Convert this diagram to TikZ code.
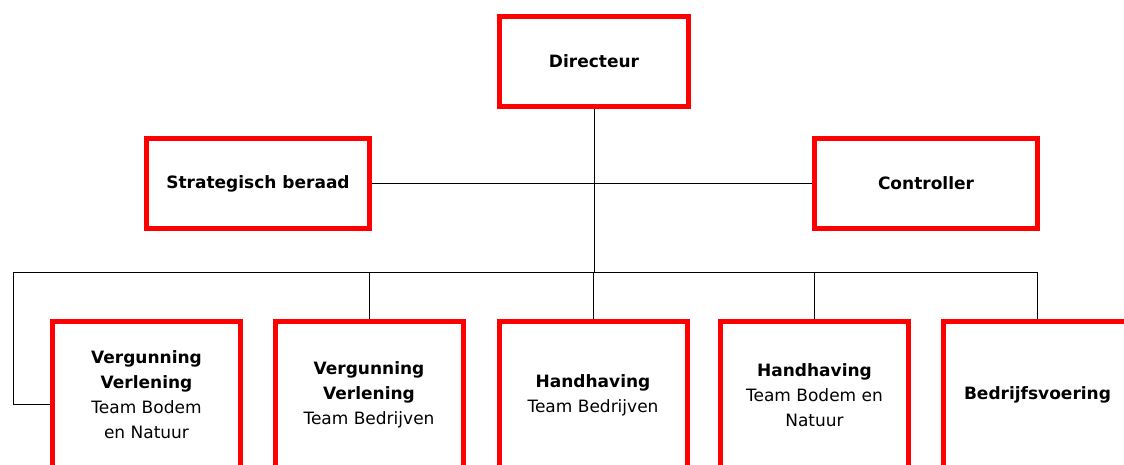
\documentclass[tikz,border=0pt]{standalone}
\usepackage{fontspec}
\setmainfont{DejaVu Sans}
\begin{document}
\begin{tikzpicture}[x=1pt,y=-1pt,
  box/.style={draw=red, line width=5pt, fill=white, inner sep=0pt, align=center,
    font=\fontsize{17}{25}\selectfont},
  topbox/.style={box, minimum width=223pt, minimum height=90pt},
  botbox/.style={box, minimum width=188pt, minimum height=147pt},
  conn/.style={draw=black, line width=0.9pt}]
\useasboundingbox (0,0) rectangle (1124,464);
\clip (0,0) rectangle (1124,464);
% nodes
\node[box, minimum width=189pt, minimum height=90pt] (dir) at (594,61.5) {\textbf{Directeur}};
\node[topbox] (strat) at (258,183.5) {\textbf{Strategisch beraad}};
\node[topbox] (ctrl) at (926,183.5) {\textbf{Controller}};
\node[botbox] (b1) at (146.5,395) {\textbf{Vergunning}\\\textbf{Verlening}\\Team Bodem\\en Natuur};
\node[botbox] (b2) at (369,395) {\textbf{Vergunning}\\\textbf{Verlening}\\Team Bedrijven};
\node[botbox] (b3) at (593,395) {\textbf{Handhaving}\\Team Bedrijven};
\node[botbox] (b4) at (814.5,395) {\textbf{Handhaving}\\Team Bodem en\\Natuur};
\node[botbox] (b5) at (1037.5,395) {\textbf{Bedrijfsvoering}};
% connectors
\coordinate (busL) at (13,272);
\coordinate (lj) at (13,404);
\coordinate (busR) at (b5.north |- busL);
\draw[conn] (dir.south) -- (dir.south |- busL);
\draw[conn] (strat.east) -- (ctrl.west);
\draw[conn] (busL) -- (busR);
\draw[conn] (busL) -- (lj) -- (lj -| b1.west);
\draw[conn] (b2.north |- busL) -- (b2.north);
\draw[conn] (b3.north |- busL) -- (b3.north);
\draw[conn] (b4.north |- busL) -- (b4.north);
\draw[conn] (busR) -- (b5.north);
\end{tikzpicture}
\end{document}
